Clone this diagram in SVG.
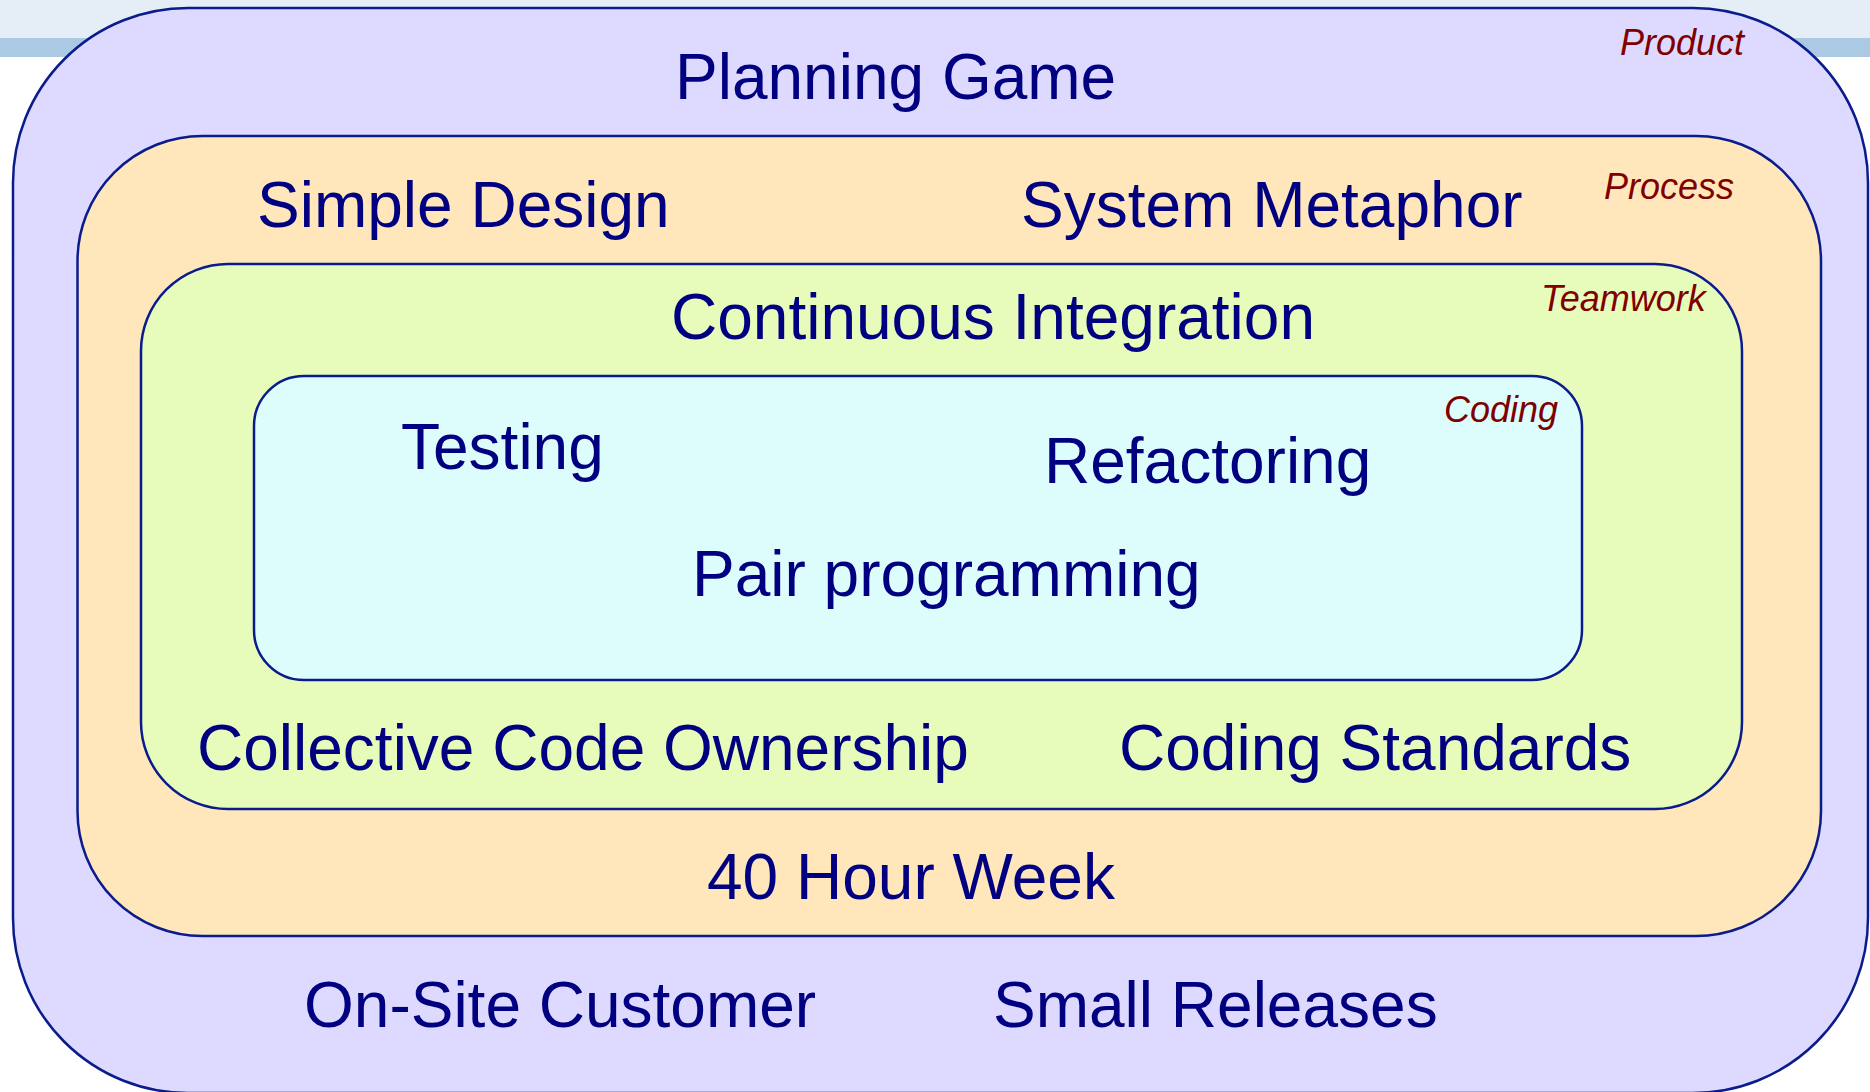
<svg xmlns="http://www.w3.org/2000/svg" width="1870" height="1092" viewBox="0 0 1870 1092">
<style>
.box{stroke:#0a1c8c;stroke-width:2.5}
.t{font-family:"Liberation Sans",Arial,sans-serif;font-size:64px;fill:#000080}
.l{font-family:"Liberation Sans",Arial,sans-serif;font-size:36px;font-style:italic;fill:#800000}
</style>
<rect x="0" y="0" width="1870" height="1092" fill="#ffffff"/>
<rect x="0" y="0" width="1870" height="38" fill="#e5edf7"/>
<rect x="0" y="38" width="1870" height="19" fill="#acc9e3"/>
<g id="product">
<rect class="box" x="13" y="8" width="1855" height="1085" rx="175" ry="175" fill="#dedaff"/>
<text class="l" x="1620" y="55">Product</text>
<text class="t" x="675" y="99">Planning Game</text>
<text class="t" x="304" y="1027">On-Site Customer</text>
<text class="t" x="993" y="1027">Small Releases</text>
</g>
<g id="process">
<rect class="box" x="77.5" y="136" width="1743.5" height="800" rx="125" ry="125" fill="#ffe7bb"/>
<text class="l" x="1604" y="199">Process</text>
<text class="t" x="257" y="227">Simple Design</text>
<text class="t" x="1021" y="227">System Metaphor</text>
<text class="t" x="707" y="899">40 Hour Week</text>
</g>
<g id="teamwork">
<rect class="box" x="141" y="264" width="1601" height="545" rx="87" ry="87" fill="#e7fcbb"/>
<text class="l" x="1541" y="311">Teamwork</text>
<text class="t" x="671" y="339">Continuous Integration</text>
<text class="t" x="197" y="770">Collective Code Ownership</text>
<text class="t" x="1119" y="770">Coding Standards</text>
</g>
<g id="coding">
<rect class="box" x="254" y="376" width="1328" height="304" rx="50" ry="50" fill="#dcfdfc"/>
<text class="l" x="1444" y="422">Coding</text>
<text class="t" x="401" y="469">Testing</text>
<text class="t" x="1044" y="483">Refactoring</text>
<text class="t" x="692" y="596">Pair programming</text>
</g>
<g id="connectors"></g>
</svg>
